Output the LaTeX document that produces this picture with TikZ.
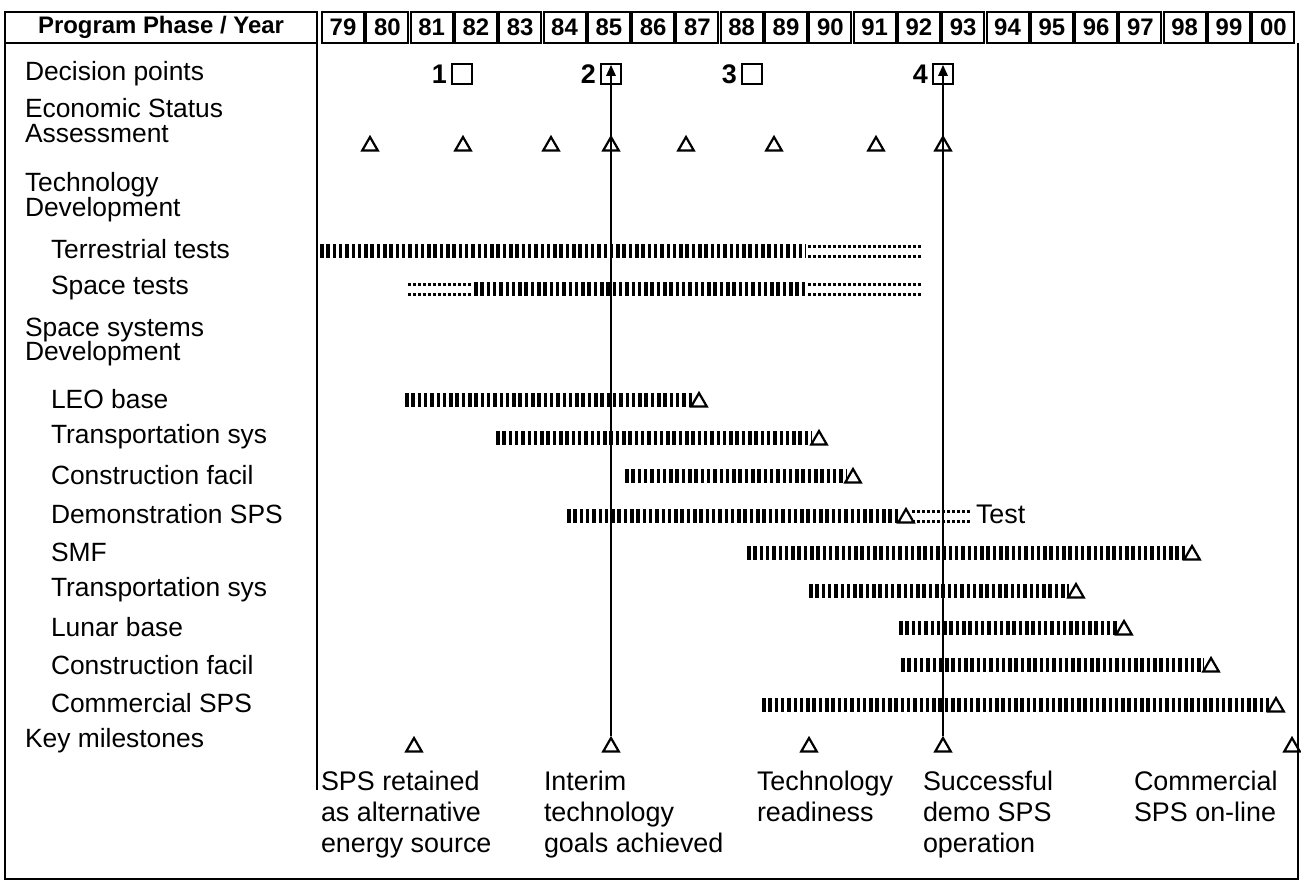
\documentclass[tikz,border=0pt]{standalone}
\usepackage{fontspec}
\setmainfont{Liberation Sans}
\usetikzlibrary{positioning,shapes.geometric,arrows.meta}
\begin{document}
\begin{tikzpicture}[x=1bp, y=-1bp, line width=2bp,
        caixa/.style={draw, line width=2bp, inner sep=0pt, minimum height=31bp, font=\fontsize{24}{26}\selectfont\bfseries},
        decisao/.style={draw, line width=2.5bp, minimum size=20bp, inner sep=0pt},
        tri/.style={draw, line width=2.2bp, regular polygon, regular polygon sides=3, minimum size=18bp, inner sep=0pt},
        rotulo/.style={anchor=west, align=left, inner sep=0pt, font=\fontsize{26.5}{25}\selectfont},
        legenda/.style={anchor=north west, align=left, inner sep=0pt, font=\fontsize{27}{31}\selectfont},
        barra/.style={line width=14bp, dash pattern=on 3.5bp off 2.8bp},
        pontos/.style={line width=3bp, dash pattern=on 2.5bp off 2.5bp}]

        \useasboundingbox (0,0) rectangle (1301,882);

        % Cabeçalho
        \node[caixa, minimum width=312bp] (cab) at (161,27) {Program Phase / Year};
        \foreach \ano [count=\i from 0] in {79,80,81,82,83,84,85,86,87,88,89,90,91,92,93,94,95,96,97,98,99,00} {
            \node[caixa, minimum width=42bp] (ano\i) at (343+44.3*\i,27) {\ano};
        }

        % Moldura e divisória
        \draw (5,43) -- (5,879) -- (1298,879) -- (1298,43);
        \draw (317,43) -- (317,790);

        % Rótulos: {y/x/texto}
        \foreach \y/\x/\txt [count=\i] in {74/24/{Decision points}, 121/24/{Economic Status\\Assessment},
            197/24/{Technology\\Development}, 249/50/{Terrestrial tests}, 288/50/{Space tests},
            342/24/{Space systems\\Development}, 399/50/{LEO base}, 437/50/{Transportation sys},
            475/50/{Construction facil}, 514/50/{Demonstration SPS}, 552/50/{SMF},
            590/50/{Transportation sys}, 627/50/{Lunar base}, 665/50/{Construction facil},
            703/50/{Commercial SPS}, 741/24/{Key milestones}} {
            \node[rotulo] (lbl\i) at (\x,\y) {\txt};
        }

        % Pontos de decisão
        \foreach \x [count=\i] in {462,611,752,943} {
            \node[decisao] (dec\i) at (\x,74) {};
            \node[left=3bp of dec\i, inner sep=0pt, font=\fontsize{27}{27}\selectfont\bfseries] (num\i) {\i};
        }

        % Avaliação econômica
        \foreach \x [count=\i] in {370,463,551,611,686,774,876,943}
            \node[tri] (eco\i) at (\x,146) {};

        % Barras: {início/fim/y}
        \foreach \a/\b/\y in {320/806/251, 474/806/289, 405/692/400, 496/812/438, 625/846/476,
            567/900/516, 747/1185/553, 809/1069/591, 899/1117/628, 901/1204/665, 762/1269/705}
            \draw[barra] (\a,\y) -- (\b,\y);

        % Trechos pontilhados
        \foreach \a/\b/\y in {808/922/251, 408/472/289, 808/922/289, 912/970/516}
            \foreach \s in {-5,5}
                \draw[pontos] (\a,\y+\s) -- (\b,\y+\s);

        % Triângulos no fim das barras
        \foreach \x/\y [count=\i] in {699/402, 819/440, 853/478, 906/518, 1192/555, 1076/593, 1124/630, 1211/667, 1276/707}
            \node[tri] (fim\i) at (\x,\y) {};
        \node[anchor=west, inner sep=0pt, font=\fontsize{27}{24}\selectfont] (teste) at (975,514) {Test};

        % Marcos
        \foreach \x [count=\i] in {414,611,809,943,1292}
            \node[tri] (ms\i) at (\x,747) {};

        % Ligações marco -> decisão
        \foreach \i in {2,4}
            \draw[line width=2.5bp, -{Triangle[width=9bp,length=11bp]}] (ms\i.north) -- ([yshift=-2bp]dec\i.north);

        % Legendas dos marcos
        \foreach \x/\txt [count=\i] in {320/{SPS retained\\as alternative\\energy source}, 543/{Interim\\technology\\goals achieved},
            756/{Technology\\readiness}, 922/{Successful\\demo SPS\\operation}, 1133/{Commercial\\SPS on-line}}
            \node[legenda] (leg\i) at (\x,770) {\txt};
    \end{tikzpicture}
\end{document}
